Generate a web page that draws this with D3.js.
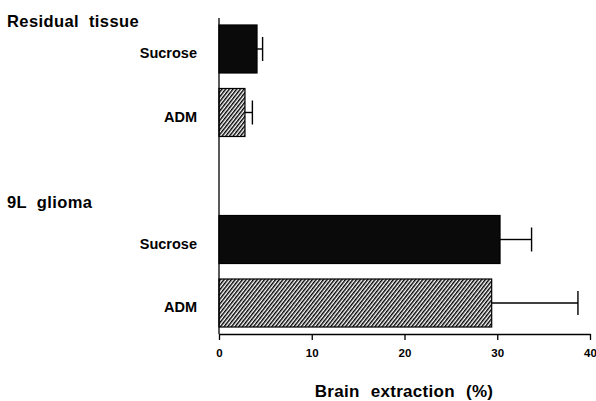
<!DOCTYPE html>
<html>
<head>
<meta charset="utf-8">
<script src="https://cdn.jsdelivr.net/npm/d3@7"></script>
<style>
  body { margin: 0; background: #fff; }
  svg { font-family: "Liberation Sans", Arial, sans-serif; font-weight: bold; }
</style>
</head>
<body>
<div id="chart"></div>
<script>
// data
const groups = ["Residual tissue", "9L glioma"];
const rowKeys = ["res-suc", "res-adm", "gap", "gl-suc", "gl-adm"];
const rowGroup = ["Residual tissue", "Residual tissue", null, "9L glioma", "9L glioma"];
const rowLabels = ["Sucrose", "ADM", "", "Sucrose", "ADM"];
const rowValues = [4.1, 2.8, null, 30.3, 29.4];
const rowErrors = [0.6, 0.8, null, 3.4, 9.3];
const xTicks = [0, 10, 20, 30, 40];

const width = 596, height = 401;
const svg = d3.select("#chart").append("svg")
    .attr("width", width)
    .attr("height", height);

// hatch pattern for ADM bars
const defs = svg.append("defs");
defs.append("pattern")
    .attr("id", "hatch")
    .attr("patternUnits", "userSpaceOnUse")
    .attr("width", 2.9).attr("height", 2.9)
    .attr("patternTransform", "rotate(38)")
    .append("rect")
    .attr("x", 0).attr("y", 0)
    .attr("width", 1.45).attr("height", 2.9)
    .attr("fill", "#000");

const xScale = d3.scaleLinear().domain([0, 40]).range([219, 590]);
const yScale = d3.scaleBand().domain(rowKeys)
    .range([18, 334])
    .paddingInner(0.244)
    .paddingOuter(0.11);

const rows = rowKeys.map((k, i) => ({
    key: k, group: rowGroup[i], label: rowLabels[i],
    value: rowValues[i], err: rowErrors[i]
})).filter(d => d.value !== null);

// bars
svg.selectAll(".bar")
    .data(rows)
    .join("rect")
    .attr("class", "bar")
    .attr("x", xScale(0))
    .attr("y", d => yScale(d.key))
    .attr("width", d => xScale(d.value) - xScale(0))
    .attr("height", yScale.bandwidth())
    .attr("fill", d => d.label === "ADM" ? "url(#hatch)" : "#0a0a0a")
    .attr("stroke", "#000")
    .attr("stroke-width", 1.2);

// error bars
const errG = svg.selectAll(".errG")
    .data(rows)
    .join("g")
    .attr("class", "errG")
    .attr("stroke", "#000")
    .attr("stroke-width", 1.4);
errG.append("line")
    .attr("x1", d => xScale(d.value))
    .attr("x2", d => xScale(d.value + d.err))
    .attr("y1", d => yScale(d.key) + yScale.bandwidth() / 2)
    .attr("y2", d => yScale(d.key) + yScale.bandwidth() / 2);
errG.append("line")
    .attr("x1", d => xScale(d.value + d.err))
    .attr("x2", d => xScale(d.value + d.err))
    .attr("y1", d => yScale(d.key) + yScale.bandwidth() / 2 - 12)
    .attr("y2", d => yScale(d.key) + yScale.bandwidth() / 2 + 12);

// y axis line
svg.append("line")
    .attr("x1", xScale(0)).attr("x2", xScale(0))
    .attr("y1", 18).attr("y2", 334)
    .attr("stroke", "#000").attr("stroke-width", 1.3);

// row labels
svg.selectAll(".rowLabel")
    .data(rows)
    .join("text")
    .attr("class", "rowLabel")
    .attr("x", 197)
    .attr("y", d => yScale(d.key) + yScale.bandwidth() / 2 + 4)
    .attr("dy", "0.35em")
    .attr("text-anchor", "end")
    .attr("font-size", 14.5)
    .text(d => d.label);

// group headings
svg.selectAll(".groupLabel")
    .data(groups)
    .join("text")
    .attr("class", "groupLabel")
    .attr("x", 7)
    .attr("y", (g, i) => i === 0 ? 27 : 208)
    .attr("font-size", 16.5)
    .attr("word-spacing", 5)
    .attr("letter-spacing", 0.4)
    .text(g => g);

// x axis
const bottomAxis = d3.axisBottom(xScale)
    .tickValues(xTicks)
    .tickSize(6)
    .tickSizeOuter(0)
    .tickPadding(9);
const xAxisG = svg.append("g")
    .attr("class", "xAxisG")
    .attr("transform", "translate(0,334)")
    .call(bottomAxis);
xAxisG.select(".domain").attr("stroke-width", 1.3);
xAxisG.selectAll(".tick line").attr("stroke-width", 1.3);
xAxisG.selectAll(".tick text")
    .attr("font-size", 11.5)
    .attr("font-family", "\"Liberation Sans\", Arial, sans-serif")
    .attr("font-weight", "bold")
    .attr("fill", "#000");

// axis title
svg.append("text")
    .attr("x", 404)
    .attr("y", 397)
    .attr("text-anchor", "middle")
    .attr("font-size", 17)
    .attr("word-spacing", 6)
    .attr("letter-spacing", 0.3)
    .text("Brain extraction (%)");
</script>
</body>
</html>
